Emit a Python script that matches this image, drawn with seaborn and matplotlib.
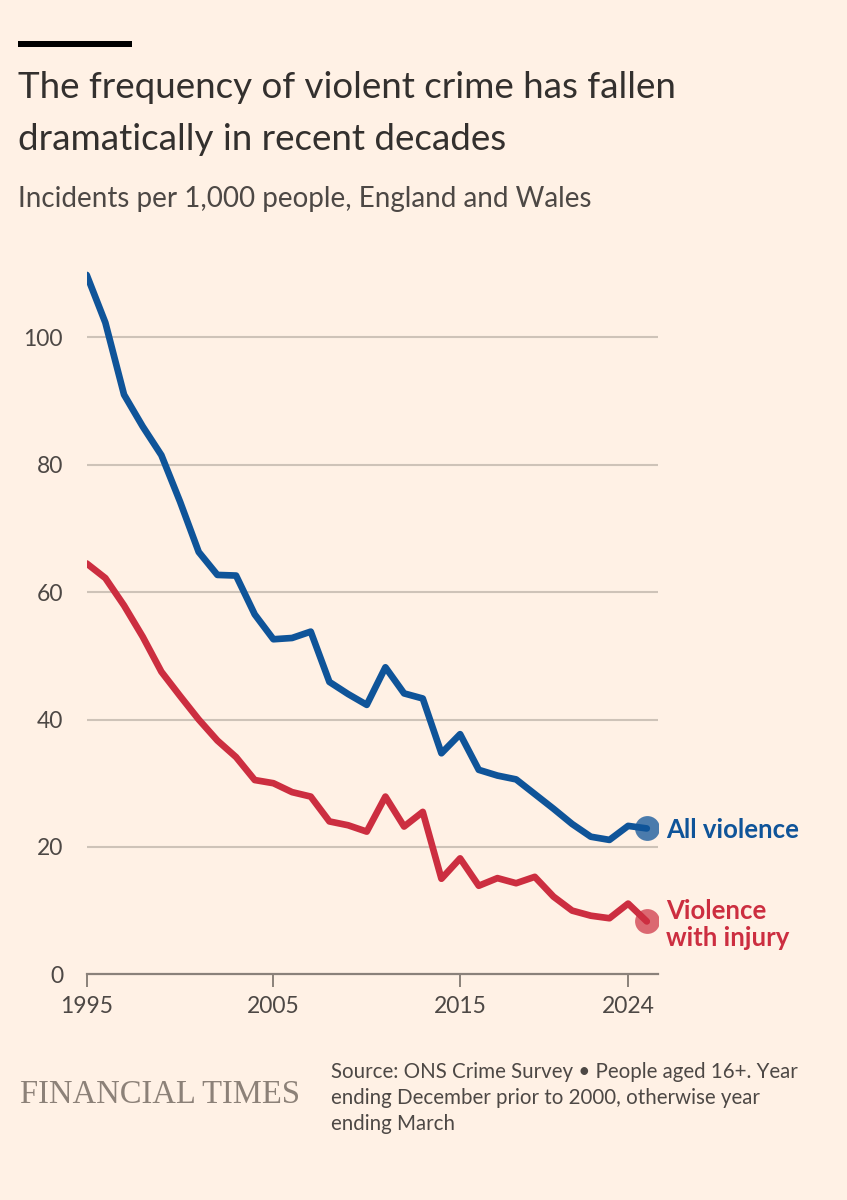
import matplotlib
matplotlib.use("Agg")
import matplotlib.pyplot as plt
import seaborn as sns
import pandas as pd

# ---- data ----
years = list(range(1995, 2026))
all_violence = [109.8, 102.3, 91.0, 86.0, 81.5, 74.2, 66.3, 62.7, 62.6, 56.5,
                52.6, 52.8, 53.8, 45.9, 44.0, 42.3, 48.2, 44.1, 43.3, 34.7,
                37.7, 32.1, 31.2, 30.6, 28.3, 26.0, 23.6, 21.6, 21.1, 23.3, 22.9]
with_injury = [64.5, 62.2, 57.9, 53.0, 47.5, 43.7, 40.0, 36.7, 34.1, 30.5,
               30.0, 28.6, 27.9, 24.0, 23.4, 22.4, 27.9, 23.2, 25.5, 15.0,
               18.2, 13.9, 15.1, 14.3, 15.3, 12.2, 10.0, 9.2, 8.8, 11.1, 8.3]
series_names = ["All violence", "Violence with injury"]
x_ticks = [1995, 2005, 2015, 2024]
y_ticks = [0, 20, 40, 60, 80, 100]

title_lines = ["The frequency of violent crime has fallen",
               "dramatically in recent decades"]
subtitle = "Incidents per 1,000 people, England and Wales"
source_lines = ["Source: ONS Crime Survey \u2022 People aged 16+. Year",
                "ending December prior to 2000, otherwise year",
                "ending March"]

BG = "#FFF1E5"
BLUE = "#0F5499"
RED = "#CC2E40"
GRID = "#CEC3B8"
AXIS = "#8A817A"
TXT = "#33302E"
TXT2 = "#4D4845"

df = pd.DataFrame({
    "year": years * 2,
    "value": all_violence + with_injury,
    "series": [series_names[0]] * len(years) + [series_names[1]] * len(years),
})

sns.set_theme(style="white", rc={"figure.facecolor": BG, "axes.facecolor": BG})
plt.rcParams["font.family"] = ["Lato", "DejaVu Sans"]

W, H = 847, 1200
fig = plt.figure(figsize=(W / 100, H / 100), dpi=100)
fig.patch.set_facecolor(BG)

ax_l, ax_r, ax_b, ax_t = 86.7, 658.3, 974.3, 260.9
ax = fig.add_axes([ax_l / W, 1 - ax_b / H, (ax_r - ax_l) / W, (ax_b - ax_t) / H])
ax.set_facecolor(BG)

for y in y_ticks[1:]:
    ax.axhline(y, color=GRID, lw=1.5, zorder=0)

sns.lineplot(data=df, x="year", y="value", hue="series",
             palette={series_names[0]: BLUE, series_names[1]: RED},
             lw=4.8, ax=ax, legend=False, solid_capstyle="round",
             solid_joinstyle="round", zorder=3)

ax.scatter([years[-1]], [all_violence[-1]], s=320, color=BLUE, alpha=0.75,
           lw=0, zorder=4)
ax.scatter([years[-1]], [with_injury[-1]], s=320, color=RED, alpha=0.7,
           lw=0, zorder=4)

ax.set_xlim(1995, 1995 + (ax_r - ax_l) / 18.67)
ax.set_ylim(0, 112)
ax.set_xticks(x_ticks)
ax.set_xticklabels([str(t) for t in x_ticks])
ax.set_yticks(y_ticks)
ax.set_yticklabels([str(t) for t in y_ticks])
ax.set_xlabel("")
ax.set_ylabel("")
for s in ["top", "right", "left"]:
    ax.spines[s].set_visible(False)
ax.spines["bottom"].set_color(AXIS)
ax.spines["bottom"].set_linewidth(1.6)
ax.tick_params(axis="x", length=9.5, width=1.4, color=AXIS, pad=6,
               labelsize=16.5, labelcolor=TXT2, bottom=True)
ax.tick_params(axis="y", length=0, pad=17, labelsize=16.5, labelcolor=TXT2, left=False)

def fy(px):
    return 1 - px / H

# series labels (placed in pixel space next to the end dots)
fig.text(666 / W, fy(830), "All violence", color=BLUE, fontsize=18.5,
         fontweight="bold", va="center", ha="left")
fig.text(666 / W, fy(911), "Violence", color=RED, fontsize=18.5,
         fontweight="bold", va="center", ha="left")
fig.text(666 / W, fy(938), "with injury", color=RED, fontsize=18.5,
         fontweight="bold", va="center", ha="left")

# header
fig.add_artist(plt.Rectangle((18 / W, fy(47)), 114 / W, 6 / H, color="#000000",
                             transform=fig.transFigure, lw=0))
fig.text(18 / W, fy(98), title_lines[0], fontsize=26.5, color=TXT, ha="left",
         va="baseline")
fig.text(18 / W, fy(150), title_lines[1], fontsize=26.5, color=TXT, ha="left",
         va="baseline")
fig.text(18 / W, fy(207), subtitle, fontsize=20, color=TXT2, ha="left", va="baseline")

# footer
fig.text(20 / W, fy(1095), "FINANCIAL TIMES", fontsize=23.5, color="#8C8178",
         family=["Liberation Serif", "DejaVu Serif"], ha="left", va="center")
for i, line in enumerate(source_lines):
    fig.text(331 / W, fy(1072 + 26 * i), line, fontsize=14.8, color=TXT2,
             ha="left", va="center")

fig.savefig("out.png", dpi=100, facecolor=BG)
